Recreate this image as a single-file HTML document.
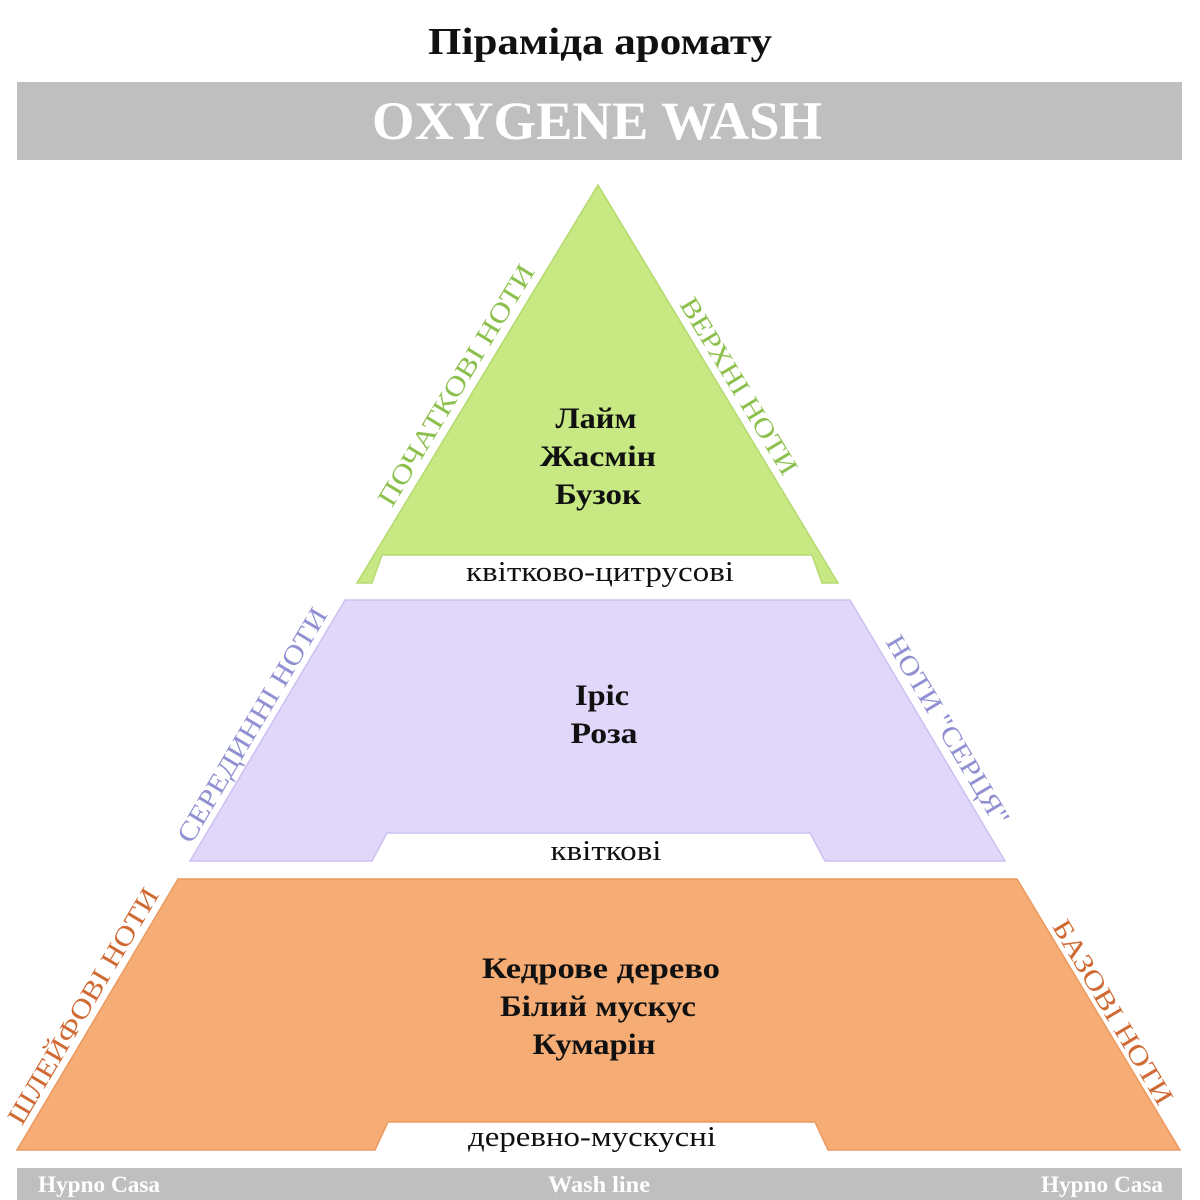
<!DOCTYPE html>
<html><head><meta charset="utf-8">
<style>
html,body{margin:0;padding:0;background:#fff;}
svg{display:block;}
text{font-family:"Liberation Serif","DejaVu Serif",serif;}
</style></head>
<body>
<svg width="1200" height="1200" viewBox="0 0 1200 1200" xmlns="http://www.w3.org/2000/svg">
<rect width="1200" height="1200" fill="#fff"/>
<text x="600" y="54" text-anchor="middle" font-size="38" font-weight="bold" fill="#111" textLength="344" lengthAdjust="spacingAndGlyphs">Піраміда аромату</text>
<rect x="17" y="82" width="1165" height="78" fill="#bfbfbf"/>
<text x="597" y="139" text-anchor="middle" font-size="54" font-weight="bold" fill="#fff" textLength="450" lengthAdjust="spacingAndGlyphs">OXYGENE WASH</text>

<!-- green -->
<polygon points="598,185 838,583 822,583 812,555 382,555 372,583 357,583" fill="#c7e882" stroke="#b5da70" stroke-width="1.5"/>
<text x="596" y="428" text-anchor="middle" font-size="30" font-weight="bold" fill="#111" textLength="81" lengthAdjust="spacingAndGlyphs">Лайм</text>
<text x="598" y="466" text-anchor="middle" font-size="30" font-weight="bold" fill="#111" textLength="116" lengthAdjust="spacingAndGlyphs">Жасмін</text>
<text x="598" y="504" text-anchor="middle" font-size="30" font-weight="bold" fill="#111" textLength="86" lengthAdjust="spacingAndGlyphs">Бузок</text>
<text x="600" y="581" text-anchor="middle" font-size="28" fill="#111" textLength="268" lengthAdjust="spacingAndGlyphs">квітково-цитрусові</text>
<text transform="translate(456,385) rotate(-58.8)" text-anchor="middle" dominant-baseline="central" font-size="27" fill="#8cc04c" textLength="277" lengthAdjust="spacingAndGlyphs">ПОЧАТКОВІ НОТИ</text>
<text transform="translate(739,386) rotate(58.8)" text-anchor="middle" dominant-baseline="central" font-size="27" fill="#8cc04c" textLength="202" lengthAdjust="spacingAndGlyphs">ВЕРХНІ НОТИ</text>

<!-- purple -->
<polygon points="345,600 850,600 1005,861 825,861 810,833 387,833 372,861 190,861" fill="#e0d7fa" stroke="#cdc0f2" stroke-width="1.5"/>
<text x="602" y="705" text-anchor="middle" font-size="30" font-weight="bold" fill="#111" textLength="54" lengthAdjust="spacingAndGlyphs">Іріс</text>
<text x="604" y="743" text-anchor="middle" font-size="30" font-weight="bold" fill="#111" textLength="67" lengthAdjust="spacingAndGlyphs">Роза</text>
<text x="606" y="860" text-anchor="middle" font-size="28" fill="#111" textLength="111" lengthAdjust="spacingAndGlyphs">квіткові</text>
<text transform="translate(252,725) rotate(-59.3)" text-anchor="middle" dominant-baseline="central" font-size="27" fill="#9090d2" textLength="268" lengthAdjust="spacingAndGlyphs">СЕРЕДИННІ НОТИ</text>
<text transform="translate(948,730) rotate(59.3)" text-anchor="middle" dominant-baseline="central" font-size="27" fill="#9090d2" textLength="216" lengthAdjust="spacingAndGlyphs">НОТИ "СЕРЦЯ"</text>

<!-- orange -->
<polygon points="178,879 1017,879 1180,1150 828,1150 815,1122 388,1122 375,1150 17,1150" fill="#f5ad75" stroke="#eb9a60" stroke-width="1.5"/>
<text x="601" y="978" text-anchor="middle" font-size="30" font-weight="bold" fill="#111" textLength="238" lengthAdjust="spacingAndGlyphs">Кедрове дерево</text>
<text x="598" y="1016" text-anchor="middle" font-size="30" font-weight="bold" fill="#111" textLength="196" lengthAdjust="spacingAndGlyphs">Білий мускус</text>
<text x="594" y="1054" text-anchor="middle" font-size="30" font-weight="bold" fill="#111" textLength="123" lengthAdjust="spacingAndGlyphs">Кумарін</text>
<text x="592" y="1146" text-anchor="middle" font-size="28" fill="#111" textLength="248" lengthAdjust="spacingAndGlyphs">деревно-мускусні</text>
<text transform="translate(83,1006) rotate(-59.3)" text-anchor="middle" dominant-baseline="central" font-size="27" fill="#d06a35" textLength="270" lengthAdjust="spacingAndGlyphs">ШЛЕЙФОВІ НОТИ</text>
<text transform="translate(1113,1012) rotate(59.3)" text-anchor="middle" dominant-baseline="central" font-size="27" fill="#d06a35" textLength="210" lengthAdjust="spacingAndGlyphs">БАЗОВІ НОТИ</text>

<!-- footer -->
<rect x="17" y="1168" width="1165" height="32" fill="#bfbfbf"/>
<text x="38" y="1192" font-size="23" font-weight="bold" fill="#fff" textLength="122" lengthAdjust="spacingAndGlyphs">Hypno Casa</text>
<text x="599" y="1192" text-anchor="middle" font-size="23" font-weight="bold" fill="#fff" textLength="102" lengthAdjust="spacingAndGlyphs">Wash line</text>
<text x="1041" y="1192" font-size="23" font-weight="bold" fill="#fff" textLength="122" lengthAdjust="spacingAndGlyphs">Hypno Casa</text>
</svg>
</body></html>
